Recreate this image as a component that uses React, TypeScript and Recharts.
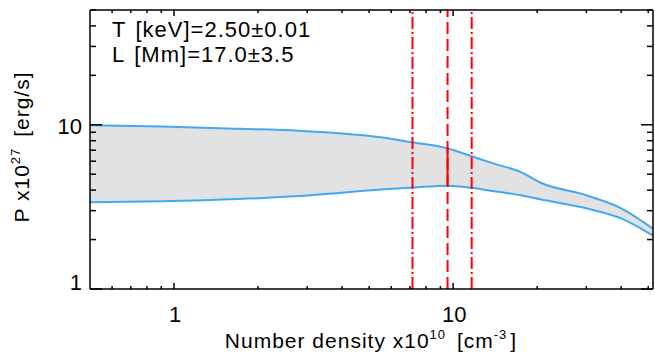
import { ComposedChart, Area, Line, XAxis, YAxis, ReferenceLine, Customized } from 'recharts';

const density = [0.5, 0.9, 1.7, 2.8, 4.0, 5.5, 7.2, 9.5, 11.6, 14.0, 17.5, 20.5, 30.0, 40.0, 52.0];
const powerUpper = [9.95, 9.75, 9.45, 9.2, 8.85, 8.4, 7.8, 7.2, 6.45, 5.8, 5.15, 4.45, 3.72, 3.1, 2.33];
const powerLower = [3.37, 3.42, 3.53, 3.68, 3.86, 4.03, 4.15, 4.26, 4.14, 3.94, 3.72, 3.52, 3.1, 2.69, 2.11];

const xTicks = [0.6, 0.7, 0.8, 0.9, 1, 2, 3, 4, 5, 6, 7, 8, 9, 10, 20, 30, 40, 50];
const yTicks = [1, 2, 3, 4, 5, 6, 7, 8, 9, 10, 20, 30, 40, 50];
const majorTicks = [1, 10];

// density markers: lower, best, upper
const markerX = [7.15, 9.55, 11.65];
const bestRange = [4.26, 7.2];

const annotations = ['T [keV]=2.50\u00b10.01', 'L [Mm]=17.0\u00b13.5'];

const chartData = density.map((d, i) => ({ density: d, upper: powerUpper[i], lower: powerLower[i] }));

const FONT = '"Liberation Sans", Arial, sans-serif';

const XTick = ({ x, y, payload, side }: any) => {
  const major = majorTicks.includes(payload.value);
  const dir = side === 'top' ? 1 : -1;
  return (
    <g>
      <line x1={x} y1={y} x2={x} y2={y + dir * (major ? 6 : 3)} stroke="#000" strokeWidth={1.5} />
      {major && side !== 'top' && (
        <text x={x + 1} y={y + 33} textAnchor="middle" fontFamily={FONT} fontSize={22} fill="#000">
          {payload.value}
        </text>
      )}
    </g>
  );
};

const YTick = ({ x, y, payload, side }: any) => {
  const major = majorTicks.includes(payload.value);
  const dir = side === 'right' ? -1 : 1;
  return (
    <g>
      <line x1={x} y1={y} x2={x + dir * (major ? 12 : 6)} y2={y} stroke="#000" strokeWidth={1.5} />
      {major && side !== 'right' && (
        <text x={x - 8} y={payload.value === 1 ? y + 1 : y + 9} textAnchor="end" fontFamily={FONT} fontSize={22} fill="#000">
          {payload.value}
        </text>
      )}
    </g>
  );
};

const Texts = () => (
  <g fontFamily={FONT} fill="#000">
    {annotations.map((t, i) => (
      <text key={i} x={112} y={37 + i * 25} fontSize={22} letterSpacing={1}>
        {t.split(' ')[0]}
        <tspan dx={9}>{t.split(' ')[1]}</tspan>
      </text>
    ))}
    <text x={371} y={348} textAnchor="middle" fontSize={21} letterSpacing={1}>
      Number density x10<tspan fontSize={13} dy={-9}>10</tspan>
      <tspan dy={9} dx={4}> [cm</tspan>
      <tspan fontSize={13} dy={-9}>-3</tspan>
      <tspan dy={9} dx={3}>]</tspan>
    </text>
    <text x={0} y={0} textAnchor="middle" fontSize={21} letterSpacing={1} transform="translate(29,147) rotate(-90)">
      P x10<tspan fontSize={13} dy={-9}>27</tspan>
      <tspan dy={9} dx={4}> [erg/s]</tspan>
    </text>
  </g>
);

export default function App() {
  return (
    <div style={{ position: 'absolute', left: 0, top: 0 }}>
      <ComposedChart width={655} height={356} data={chartData} margin={{ top: 0, right: 0, bottom: 0, left: 0 }}>
        <XAxis
          dataKey="density"
          type="number"
          scale="log"
          domain={[0.5, 52]}
          allowDataOverflow
          ticks={xTicks}
          interval={0}
          height={67}
          tickSize={0}
          tickMargin={0}
          tickLine={false}
          axisLine={{ stroke: '#000', strokeWidth: 1.5 }}
          tick={<XTick side="bottom" />}
        />
        <XAxis
          xAxisId="top"
          orientation="top"
          dataKey="density"
          type="number"
          scale="log"
          domain={[0.5, 52]}
          allowDataOverflow
          ticks={xTicks}
          interval={0}
          height={10}
          tickSize={0}
          tickMargin={0}
          tickLine={false}
          axisLine={{ stroke: '#000', strokeWidth: 1.5 }}
          tick={<XTick side="top" />}
        />
        <YAxis
          type="number"
          scale="log"
          domain={[1, 50]}
          allowDataOverflow
          ticks={yTicks}
          interval={0}
          width={90}
          tickSize={0}
          tickMargin={0}
          tickLine={false}
          axisLine={{ stroke: '#000', strokeWidth: 1.5 }}
          tick={<YTick side="left" />}
        />
        <YAxis
          yAxisId="right"
          orientation="right"
          type="number"
          scale="log"
          domain={[1, 50]}
          allowDataOverflow
          ticks={yTicks}
          interval={0}
          width={2}
          tickSize={0}
          tickMargin={0}
          tickLine={false}
          axisLine={{ stroke: '#000', strokeWidth: 1.5 }}
          tick={<YTick side="right" />}
        />
        <Area
          type="monotone"
          dataKey={(d: any) => [d.lower, d.upper]}
          fill="#e2e2e2"
          fillOpacity={1}
          stroke="none"
          isAnimationActive={false}
        />
        <Line type="monotone" dataKey="upper" stroke="#44a8f0" strokeWidth={2} dot={false} isAnimationActive={false} />
        <Line type="monotone" dataKey="lower" stroke="#44a8f0" strokeWidth={2} dot={false} isAnimationActive={false} />
        <ReferenceLine x={markerX[0]} stroke="#ff0000" strokeWidth={2} strokeDasharray="12 3 2 3" />
        <ReferenceLine x={markerX[1]} stroke="#ff0000" strokeWidth={2} strokeDasharray="12 5" />
        <ReferenceLine x={markerX[2]} stroke="#ff0000" strokeWidth={2} strokeDasharray="12 3 2 3" />
        <ReferenceLine
          segment={[{ x: markerX[1], y: bestRange[0] }, { x: markerX[1], y: bestRange[1] }]}
          stroke="#ff0000"
          strokeWidth={2}
        />
        <Customized component={Texts} />
      </ComposedChart>
    </div>
  );
}
